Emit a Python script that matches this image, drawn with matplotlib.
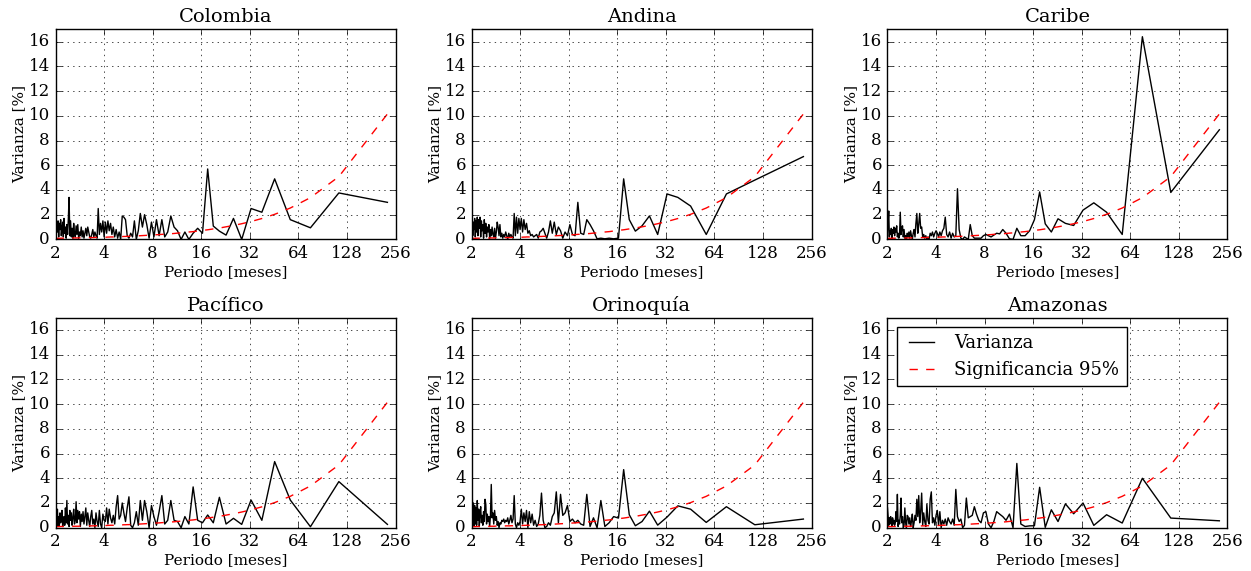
import numpy as np
import matplotlib
matplotlib.use('Agg')
import matplotlib.pyplot as plt
from matplotlib.ticker import FixedLocator, FixedFormatter, NullLocator

plt.style.use('classic')
plt.rcParams['font.family'] = 'serif'
plt.rcParams['font.serif'] = ['DejaVu Serif']

#serie mensual de 228 meses -> periodos 228/k
N = 228
periodo = N / np.arange(114, 0, -1)

#varianza explicada por cada periodo [%], de izquierda a derecha
colombia = [1.2, 0.4, 1.1, 0.6, 1.5, 0.2, 1.3, 0.8, 1.6, 0.3, 0.9, 1.4, 0.2, 1.7, 0.5, 1.0, 0.1, 1.2, 0.4, 1.6,
            3.4, 0.3, 1.5, 0.2, 0.9, 0.1, 1.3, 0.5, 0.2, 1.1, 0.4, 1.2, 0.1, 0.6, 0.3, 1.0, 0.2, 0.7, 0.1, 0.5,
            0.9, 0.3, 1.0, 0.6, 0.2, 0.1, 0.4, 0.8, 0.2, 0.6, 0.3, 0.1, 2.5, 0.4, 1.3, 0.6, 1.5, 0.2,
            1.4, 0.5, 1.5, 0.7, 1.3, 0.4, 1.0, 0.2, 0.8, 0.1, 0.6, 0.0, 1.9, 1.8, 1.6, 0.3, 0.1, 0.5, 0.2, 1.5,
            0.0, 0.7, 2.1, 1.0, 2.0, 1.2, 0.1, 1.4,
            0.2, 1.6, 0.3, 1.6, 0.2, 0.6, 1.9, 1.0, 0.7, 0.0, 0.6, 0.0, 0.5, 0.9,
            0.5, 5.7, 1.08, 0.67, 0.35, 1.7, 0.0, 2.5, 2.2, 4.9, 1.6, 0.94, 3.76, 3.0]

andina = [0.5, 1.6, 0.3, 1.4, 0.8, 1.7, 0.2, 1.5, 0.6, 1.8, 0.3, 1.6, 0.9, 1.8, 0.2, 1.5, 0.7, 1.2, 0.1, 1.6,
          0.5, 1.3, 0.2, 1.0, 0.6, 1.2, 0.1, 0.8, 0.3, 1.0, 0.4, 0.2, 0.9, 0.1, 0.6, 1.4, 1.0, 0.3, 1.2, 0.2,
          0.5, 0.1, 0.4, 0.2, 0.6, 0.3, 0.0, 0.5, 0.2, 0.4, 0.2, 0.1, 2.1, 0.3, 1.8, 0.5, 1.7, 0.8,
          1.7, 0.6, 1.6, 0.8, 1.3, 0.5, 0.7, 0.3, 0.4, 0.2, 0.3, 0.4, 0.1, 0.6, 0.7, 0.9, 0.5, 0.1, 0.6, 1.5,
          0.5, 1.4, 0.4, 1.0, 0.7, 0.1, 0.6, 0.3,
          1.2, 0.4, 0.3, 3.0, 0.5, 0.4, 1.6, 1.2, 0.7, 0.05, 0.1, 0.05, 0.1, 0.05,
          0.1, 4.9, 1.6, 0.67, 1.1, 1.9, 0.4, 3.68, 3.4, 2.7, 0.4, 3.68, 4.8, 6.7]

caribe = [0.3, 1.4, 2.3, 0.2, 0.7, 0.4, 0.9, 0.1, 0.8, 0.5, 1.0, 0.3, 0.9, 0.6, 1.1, 0.2, 0.5, 0.1, 0.3, 2.2,
          0.4, 0.9, 1.1, 0.2, 0.8, 0.1, 0.3, 0.0, 0.5, 0.2, 0.6, 0.1, 0.7, 0.3, 0.0, 0.5, 0.8, 0.2, 1.3, 2.1,
          0.5, 1.2, 2.1, 0.9, 1.0, 0.2, 0.4, 0.1, 0.3, 0.0, 0.2, 0.0, 0.5, 0.3, 0.6, 0.2, 0.5, 0.7,
          0.5, 0.2, 0.6, 0.3, 0.7, 0.9, 1.8, 0.4, 0.2, 0.6, 0.1, 0.5, 0.2, 0.3, 4.1, 0.8, 0.1, 0.0, 0.2, 0.1,
          0.0, 1.2, 0.3, 0.1, 0.1, 0.1, 0.1, 0.3,
          0.4, 0.3, 0.2, 0.35, 0.5, 0.45, 0.8, 0.5, 0.05, 0.0, 0.9, 0.3, 0.3, 0.7,
          1.6, 3.84, 1.26, 0.6, 1.67, 1.3, 1.13, 2.37, 2.96, 2.2, 0.4, 16.4, 3.8, 8.87]

pacifico = [0.8, 0.3, 0.6, 1.5, 0.1, 0.9, 0.2, 1.2, 0.4, 0.7, 1.4, 0.1, 0.5, 0.9, 0.2, 1.6, 0.4, 2.2, 0.3, 1.0,
            0.1, 1.4, 0.6, 1.2, 0.2, 0.8, 1.5, 0.3, 0.6, 2.1, 0.4, 1.4, 0.7, 1.3, 0.1, 1.1, 0.5, 1.3, 0.3, 0.9,
            1.6, 0.2, 1.2, 0.6, 0.1, 0.9, 1.4, 0.3, 0.7, 0.0, 1.2, 0.5, 0.1, 1.4, 0.3, 0.0, 1.1, 0.6,
            0.5, 1.6, 0.3, 1.5, 0.8, 0.4, 1.0, 0.3, 1.7, 2.6, 0.7, 1.0, 2.0, 1.2, 0.5, 1.6, 2.5, 0.2, 0.0, 0.4,
            1.3, 0.2, 2.2, 0.6, 2.2, 1.3, 0.0, 1.8,
            0.9, 0.2, 1.3, 2.6, 0.3, 0.6, 2.2, 0.6, 0.5, 0.0, 0.9, 0.3, 3.3, 0.6,
            0.4, 1.03, 0.4, 2.46, 0.3, 0.76, 0.27, 2.24, 0.6, 5.35, 2.24, 0.08, 3.73, 0.27]

orinoquia = [0.2, 3.1, 0.5, 2.0, 0.1, 1.8, 0.3, 1.6, 0.2, 2.2, 0.6, 1.5, 0.1, 1.2, 1.7, 0.4, 1.0, 0.2, 1.3, 0.5,
             2.3, 1.9, 0.3, 1.1, 0.5, 0.9, 0.1, 1.0, 3.5, 0.8, 1.2, 0.3, 1.4, 0.6, 0.9, 0.2, 0.5, 0.0, 0.4, 0.3,
             0.6, 0.5, 0.7, 0.4, 0.6, 0.5, 0.8, 0.3, 0.6, 1.0, 0.4, 0.7, 2.6, 0.3, 0.0, 0.4, 0.2, 0.5,
             1.5, 0.3, 1.2, 0.5, 1.4, 0.0, 1.3, 0.4, 1.1, 0.2, 0.6, 0.1, 0.3, 1.0, 2.8, 0.6, 0.0, 0.1, 0.4, 0.2,
             0.9, 1.2, 2.9, 0.4, 2.7, 1.0, 1.2, 1.8,
             0.5, 0.7, 0.4, 0.6, 0.3, 0.2, 2.7, 0.1, 0.8, 0.0, 2.2, 0.1, 0.4, 0.9,
             0.78, 4.7, 1.05, 0.16, 0.5, 1.34, 0.21, 0.86, 1.77, 1.5, 0.43, 1.7, 0.24, 0.7]

amazonas = [1.6, 0.9, 0.2, 0.8, 0.3, 0.9, 0.5, 0.1, 0.8, 0.3, 0.6, 0.2, 0.4, 1.3, 0.5, 2.7, 0.1, 0.6, 0.3, 1.0,
            2.4, 0.4, 0.9, 0.0, 0.2, 1.6, 0.4, 0.0, 1.0, 0.9, 0.3, 0.8, 0.1, 0.5, 1.1, 0.0, 0.4, 1.0, 0.6, 2.3,
            0.9, 2.6, 0.4, 1.3, 2.8, 0.2, 1.2, 0.5, 0.1, 1.9, 0.6, 0.3, 2.3, 2.9, 0.4, 0.8, 0.2, 1.0,
            1.4, 0.2, 1.3, 0.0, 0.6, 0.3, 0.7, 0.2, 0.8, 0.5, 0.3, 0.7, 0.2, 3.1, 0.9, 0.5, 0.7, 0.0, 0.2, 2.4,
            0.8, 0.9, 1.0, 1.7, 1.1, 0.6, 0.4, 1.2,
            1.3, 0.3, 0.0, 0.5, 1.3, 1.1, 0.9, 0.6, 1.1, 0.0, 5.2, 0.3, 0.1, 0.15,
            0.16, 3.27, 0.03, 1.45, 0.5, 1.93, 1.13, 2.0, 0.19, 1.05, 0.38, 4.0, 0.78, 0.56]

#nivel de significancia al 95% (ruido rojo)
significancia = [0.09, 0.09, 0.09, 0.09, 0.09, 0.09, 0.09, 0.09, 0.10, 0.10, 0.10, 0.10, 0.10, 0.10, 0.10, 0.10,
                 0.10, 0.10, 0.11, 0.11, 0.11, 0.11, 0.11, 0.11, 0.11, 0.11, 0.12, 0.12, 0.12, 0.12, 0.12, 0.12,
                 0.12, 0.13, 0.13, 0.13, 0.13, 0.13, 0.13, 0.14, 0.14, 0.14, 0.14, 0.14, 0.15, 0.15, 0.15, 0.15,
                 0.15, 0.16, 0.16, 0.16, 0.16, 0.17, 0.17, 0.17, 0.18, 0.18,
                 0.18, 0.18, 0.19, 0.19, 0.20, 0.20, 0.20, 0.21, 0.21, 0.22, 0.22, 0.23, 0.23, 0.24, 0.24, 0.25,
                 0.25, 0.26, 0.27, 0.27, 0.28, 0.29, 0.30, 0.31, 0.32, 0.33, 0.34, 0.35,
                 0.36, 0.38, 0.39, 0.41, 0.42, 0.44, 0.46, 0.48, 0.51, 0.53, 0.56, 0.60, 0.63, 0.68,
                 0.73, 0.78, 0.85, 0.92, 1.02, 1.13, 1.27, 1.45, 1.69, 2.03, 2.54, 3.38, 5.08, 10.15]

regiones = ['Colombia', 'Andina', 'Caribe', u'Pacífico', u'Orinoquía', 'Amazonas']
series = [colombia, andina, caribe, pacifico, orinoquia, amazonas]

xticks = [2, 4, 8, 16, 32, 64, 128, 256]
yticks = [0, 2, 4, 6, 8, 10, 12, 14, 16]

fig, axes = plt.subplots(2, 3, figsize=(12.51, 5.71), dpi=100)
fig.patch.set_facecolor('white')
plt.subplots_adjust(left=0.0444, right=0.9812, bottom=0.0758, top=0.9487, wspace=0.2235, hspace=0.372)

for ax, nombre, var in zip(axes.flat, regiones, series):
    ax.plot(periodo, var, 'k-', lw=1, label='Varianza')
    ax.plot(periodo, significancia, 'r--', lw=1, dashes=(6, 6), label='Significancia 95%')
    ax.set_xscale('log', base=2)
    ax.set_xlim(2, 256)
    ax.set_ylim(0, 17)
    ax.xaxis.set_major_locator(FixedLocator(xticks))
    ax.xaxis.set_major_formatter(FixedFormatter([str(t) for t in xticks]))
    ax.xaxis.set_minor_locator(NullLocator())
    ax.set_yticks(yticks)
    ax.grid(True, color='k', linestyle=':')
    ax.set_title(nombre, fontsize=14)
    ax.set_xlabel('Periodo [meses]', fontsize=11, labelpad=2)
    ax.set_ylabel('Varianza [%]', fontsize=11, labelpad=2)
    ax.tick_params(labelsize=12)

axes[1, 2].legend(loc='upper left', fontsize=13)

plt.savefig('out.png', dpi=100, facecolor='white')
